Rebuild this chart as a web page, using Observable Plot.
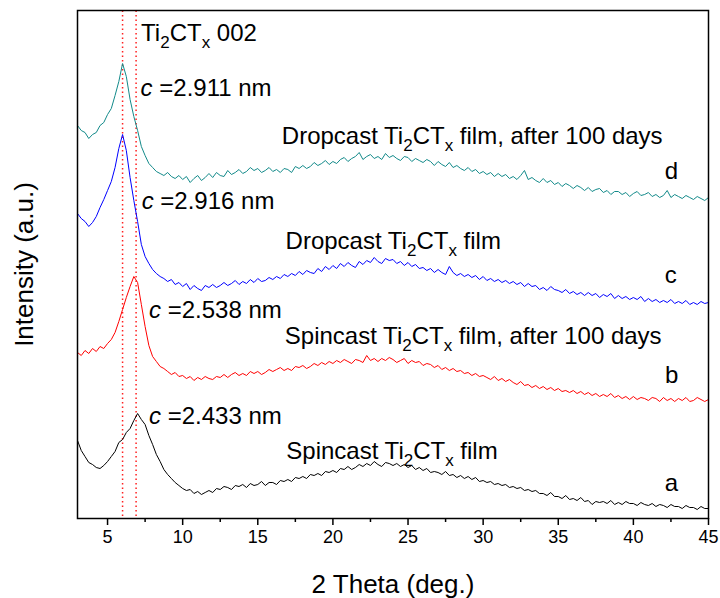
<!DOCTYPE html>
<html>
<head>
<meta charset="utf-8">
<script src="https://cdn.jsdelivr.net/npm/d3@7"></script>
<script src="https://cdn.jsdelivr.net/npm/@observablehq/plot@0.6"></script>
<style>
  html, body { margin: 0; padding: 0; background: #fff; }
  #chart svg { display: block; }
</style>
</head>
<body>
<div id="chart"></div>
<script>
// 2θ grid: 3° to 45° every 0.25°
const twoTheta = d3.range(169).map(i => 3 + i * 0.25);

// Stacked XRD intensities (a.u.)
const seriesD = [ // Dropcast Ti2CTx film, after 100 days (teal)
  393,388,386,380, 384,386,393,396, 404,410,423,437, 455,442,419,402,
  388,372,363,355,
  351,347,345,343, 346,342,340,343, 339,342,336,340, 343,338,341,345,
  341,346,343,342, 348,344,346,349, 345,347,351,348, 350,346,348,351,
  347,349,346,350, 349,346,352,350, 353,350,352,356, 353,355,358,354,
  357,355,359,361, 357,360,362,366, 359,362,364,360, 362,359,365,361,
  363,360,358,362, 361,357,360,358, 356,359,357,353, 357,354,352,356,
  351,353,350,348, 351,347,349,345, 347,344,346,342, 345,342,344,340,
  342,339,343,348, 339,341,338,336, 340,336,338,334, 336,332,335,333,
  330,333,331,328, 331,327,329,330, 326,328,324,327, 327,324,326,322,
  325,327,323,324, 326,322,324,321, 323,328,321,324, 322,320,323,321,
  319,322,320,318, 321
];
const seriesC = [ // Dropcast Ti2CTx film (blue)
  305,300,297,292, 296,302,311,319, 328,337,351,370, 384,368,341,318,
  297,274,262,255,
  249,245,242,240, 237,239,234,236, 232,235,229,233, 230,228,233,231,
  234,231,233,236, 233,235,238,234, 237,235,239,236, 240,237,238,241,
  239,242,240,244, 242,245,243,247, 244,248,246,245, 250,247,252,249,
  253,250,255,252, 256,253,251,257, 254,258,256,261, 257,255,260,258,
  259,255,257,253, 256,252,254,250, 251,248,250,246, 249,246,244,252,
  246,243,245,242, 244,241,243,239, 242,238,240,237, 239,236,238,235,
  237,234,236,232, 235,232,233,229, 231,228,232,229, 228,226,229,225,
  227,224,226,223, 226,223,225,221, 224,222,225,220, 223,220,222,219,
  221,219,222,217, 220,217,219,216, 218,216,219,215, 217,215,218,214,
  216,214,217,215, 216
];
const seriesB = [ // Spincast Ti2CTx film, after 100 days (red)
  166,163,168,165, 170,167,172,170, 175,179,186,197, 209,221,232,242,
  236,214,192,173,
  162,157,152,150, 147,144,146,142, 143,140,142,138, 141,139,142,140,
  139,142,141,144, 141,144,146,143, 145,143,147,145, 147,144,146,149,
  147,149,151,148, 150,148,152,151, 153,150,152,155, 153,156,154,157,
  155,158,156,159, 157,155,159,158, 156,163,158,160, 157,160,158,161,
  159,156,158,160, 155,158,156,157, 153,155,154,151, 153,149,151,148,
  150,147,148,145, 146,143,145,142, 143,141,139,142, 138,140,137,139,
  136,134,137,133, 134,131,133,130, 132,129,131,128, 130,127,128,126,
  128,125,127,124, 126,123,125,122, 124,122,125,121, 123,120,122,119,
  122,119,121,120, 118,121,120,117, 121,118,120,117, 120,118,121,117,
  118,121,119,117, 119
];
const seriesA = [ // Spincast Ti2CTx film (black)
  78,68,62,56, 54,51,50,53, 57,62,67,76, 79,86,90,98,
  105,99,94,83, 74,64,57,49,
  44,40,36,33, 30,28,29,25, 27,24,26,28, 26,30,29,32, 31,29,33,32,
  34,31,35,33, 34,37,33,36, 36,34,38,37, 39,37,41,40, 42,40,44,43,
  45,43,47,46, 48,46,50,49, 52,49,51,54, 52,55,53,57, 54,52,56,55,
  53,55,52,54, 51,53,49,51, 48,50,46,47, 46,44,47,43, 44,41,43,40,
  42,39,41,37, 38,36,37,34, 35,33,34,31, 32,30,31,28, 29,27,28,25,
  25,23,26,22, 22,20,23,19, 20,18,21,17, 18,14,17,16, 17,15,18,14,
  16,14,17,15, 15,13,16,14, 13,15,12,14, 13,11,14,12, 12,10,13,11,
  11,9,12,10, 10
];

const seriesNames = ["a", "b", "c", "d"];
const seriesColors = ["#000000", "#ff0000", "#0000ff", "#128a8a"];
const seriesValues = [seriesA, seriesB, seriesC, seriesD];

// Reference lines for the 002 peak positions (2θ)
const peakLines = [6.0, 6.9];

// Axis ticks
const majorTicks = [5, 10, 15, 20, 25, 30, 35, 40, 45];
const minorTicks = [7.5, 12.5, 17.5, 22.5, 27.5, 32.5, 37.5, 42.5];

// Annotations (text, 2θ, intensity of baseline)
const annotations = [
  {text: "Ti{2}CT{x} 002", x: 7.23, y: 478},
  {text: "*c* =2.911 nm", x: 7.2, y: 423},
  {text: "Dropcast Ti{2}CT{x} film, after 100 days", x: 16.6, y: 375},
  {text: "d", x: 42.08, y: 340},
  {text: "*c* =2.916 nm", x: 7.27, y: 310},
  {text: "Dropcast Ti{2}CT{x} film", x: 16.85, y: 270},
  {text: "c", x: 42.08, y: 236},
  {text: "*c* =2.538 nm", x: 7.76, y: 201},
  {text: "Spincast Ti{2}CT{x} film, after 100 days", x: 16.8, y: 175},
  {text: "b", x: 42.1, y: 136},
  {text: "*c* =2.433 nm", x: 7.76, y: 95},
  {text: "Spincast Ti{2}CT{x} film", x: 16.9, y: 60},
  {text: "a", x: 42.08, y: 28}
];

const rows = [];
seriesNames.forEach((name, k) => {
  seriesValues[k].forEach((v, i) => rows.push({series: name, x: twoTheta[i], y: v}));
});

const chart = Plot.plot({
  width: 720,
  height: 598,
  marginLeft: 77,
  marginRight: 12,
  marginTop: 10,
  marginBottom: 80,
  style: {fontFamily: "'Liberation Sans', Arial, sans-serif", color: "#000", background: "#fff", overflow: "visible"},
  x: {domain: [3, 45]},
  y: {domain: [0, 508], axis: null},
  color: {domain: seriesNames, range: seriesColors},
  marks: [
    Plot.ruleX(peakLines, {y1: 2, y2: 508, stroke: "#ff2020", strokeWidth: 1.5, strokeDasharray: "1.5,3"}),
    Plot.line(rows, {x: "x", y: "y", z: "series", stroke: "series", strokeWidth: 1}),
    Plot.frame({stroke: "#000", strokeWidth: 1.5}),
    Plot.axisX(majorTicks, {tickSize: 7, tickPadding: 5, fontSize: 18, strokeWidth: 1.5, label: null}),
    Plot.axisX(minorTicks, {tickSize: 4, text: null, strokeWidth: 1.5, label: null}),
    Plot.text(annotations, {x: "x", y: "y", text: "text", textAnchor: "start", lineAnchor: "bottom", fontSize: 24, fill: "#000"}),
    Plot.text(["2 Theta (deg.)"], {frameAnchor: "bottom", text: d => d, textAnchor: "middle", lineAnchor: "bottom", dy: 74, fontSize: 26}),
    Plot.text(["Intensity (a.u.)"], {frameAnchor: "left", text: d => d, textAnchor: "middle", lineAnchor: "middle", rotate: -90, dx: -53, fontSize: 26})
  ]
});

// Subscript and italic markup in annotation texts
d3.select(chart).selectAll("text").each(function () {
  const t = this.textContent;
  if (!/[{*]/.test(t) || this.children.length) return;
  const parts = t.split(/(\{[^}]*\}|\*[^*]*\*)/).filter(s => s.length);
  this.textContent = "";
  let shifted = false;
  for (const p of parts) {
    const ts = d3.select(this).append("tspan");
    if (p.startsWith("{")) {
      ts.text(p.slice(1, -1)).attr("font-size", 17);
      if (!shifted) ts.attr("dy", 7);
      shifted = true;
    } else {
      if (p.startsWith("*")) ts.text(p.slice(1, -1)).attr("font-style", "italic");
      else ts.text(p);
      if (shifted) { ts.attr("dy", -7); shifted = false; }
    }
  }
});

document.getElementById("chart").appendChild(chart);
</script>
</body>
</html>
